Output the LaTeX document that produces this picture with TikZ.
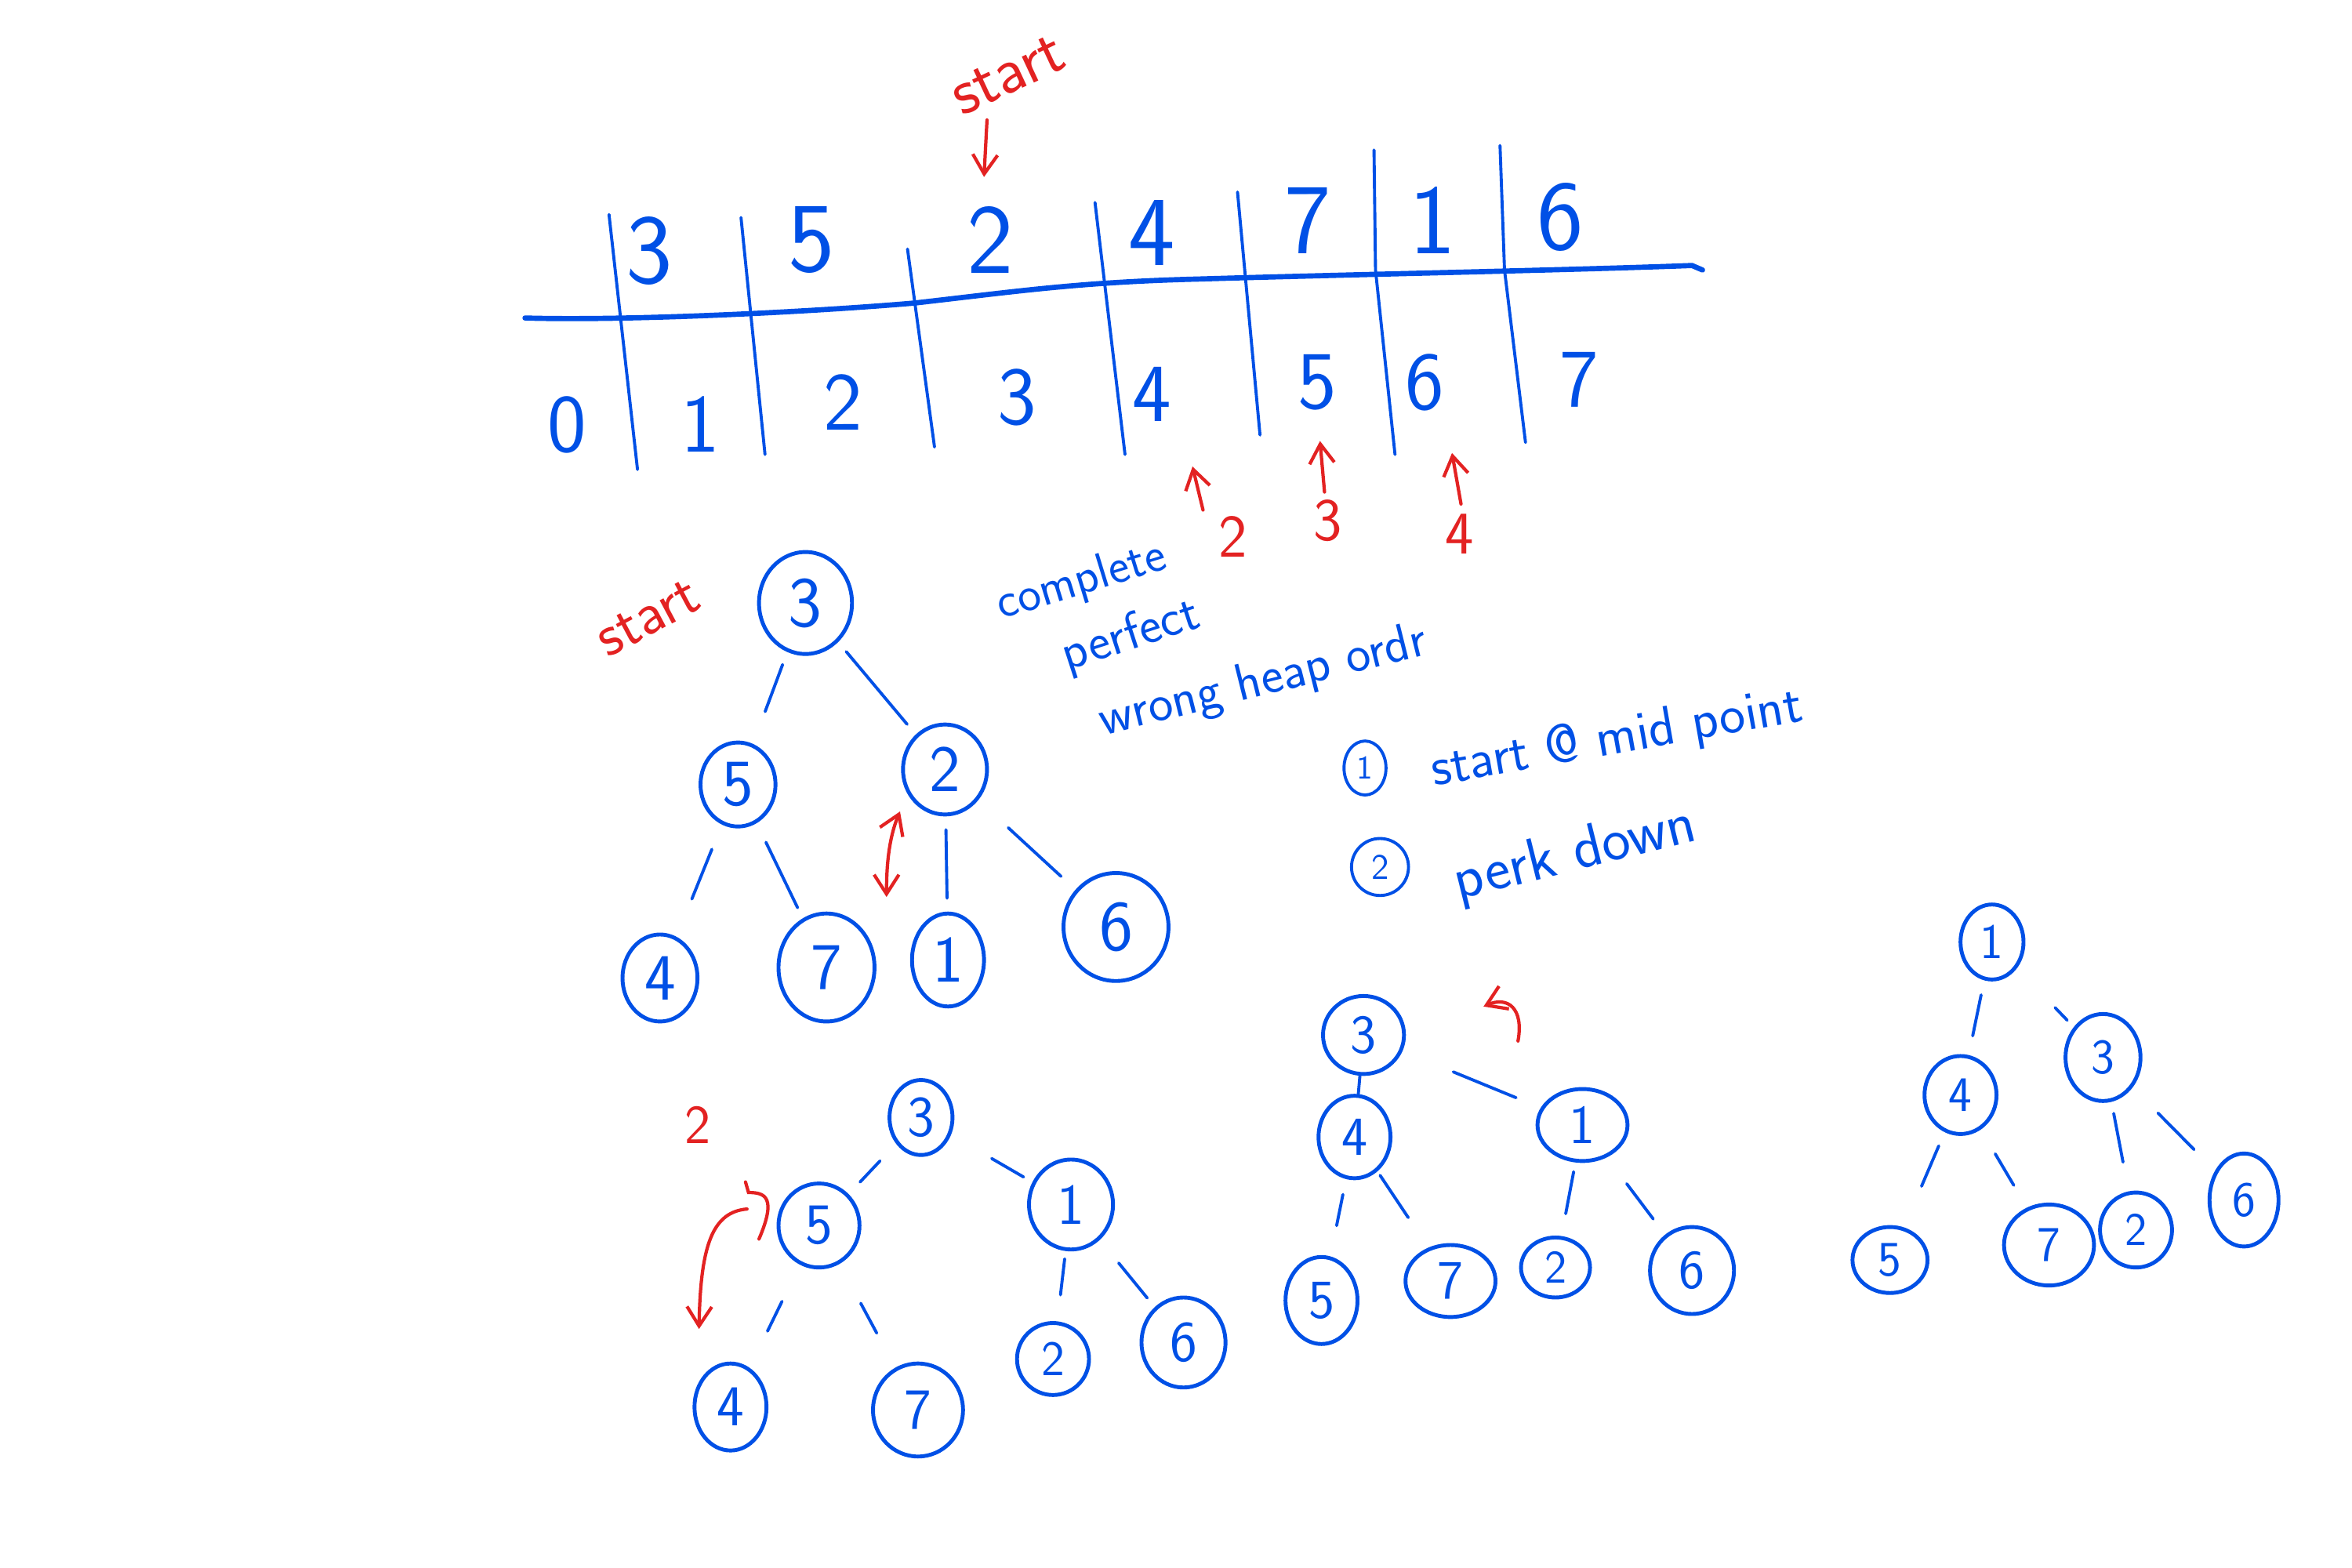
\documentclass[tikz,border=0pt]{standalone}
\usepackage{fontspec}
\usetikzlibrary{shapes.geometric,arrows.meta}
\definecolor{pen}{HTML}{0050E6}
\definecolor{ink}{HTML}{E32222}
\newcommand\myfs[1]{\sffamily\fontsize{#1}{#1}\selectfont}
\begin{document}
\begin{tikzpicture}[x=0.01913cm,y=-0.01913cm,
  nd/.style n args={3}{draw=pen,ellipse,inner sep=0pt,line width=1.4pt,minimum width=#1*0.01913cm,minimum height=#2*0.01913cm,text=pen,font=\myfs{#3}},
  ed/.style 2 args={draw=pen,line width=1.1pt,line cap=round,shorten <=#1cm,shorten >=#2cm},
  grid/.style={draw=pen,line width=1.1pt,line cap=round},
  val/.style={text=pen,font=\myfs{36},inner sep=0pt},
  idx/.style={text=pen,font=\myfs{30},inner sep=0pt},
  note/.style={text=pen,inner sep=0pt},
  rnote/.style={text=ink,inner sep=0pt},
  rarr/.style={draw=ink,line width=1.2pt,line cap=round,-{Straight Barb[length=7pt,width=9pt]}},
  rboth/.style={draw=ink,line width=1.2pt,line cap=round,{Straight Barb[length=7pt,width=9pt]}-{Straight Barb[length=7pt,width=9pt]}},
  rline/.style={draw=ink,line width=1.2pt,line cap=round},
]
\useasboundingbox (0,0) rectangle (1568,1045);

% ---------- array ----------
\draw[pen,line width=1.9pt,line cap=round] (350,212) .. controls (420,214) and (540,208) .. (610,202) .. controls (680,194) and (720,188) .. (800,186) .. controls (900,183) and (1050,180) .. (1128,177) -- (1135,180);
\draw[grid] (406,143) -- (425,313);
\draw[grid] (494,145) -- (510,303);
\draw[grid] (605,166) -- (623,298);
\draw[grid] (730,135) -- (750,303);
\draw[grid] (825,128) -- (840,290);
\draw[grid] (916,100) -- (917,180) -- (930,303);
\draw[grid] (1000,97) -- (1003,180) -- (1017,295);

\node[val] (v0) at (433,167) {3};
\node[val] (v1) at (541,160) {5};
\node[val] (v2) at (660,160) {2};
\node[val] (v3) at (768,155) {4};
\node[val] (v4) at (872,147) {7};
\node[val] (v5) at (955,147) {1};
\node[val] (v6) at (1040,145) {6};

\node[idx] (i0) at (378,283) {0};
\node[idx] (i1) at (467,283) {1};
\node[idx] (i2) at (562,268) {2};
\node[idx] (i3) at (678,265) {3};
\node[idx] (i4) at (768,263) {4};
\node[idx] (i5) at (878,255) {5};
\node[idx] (i6) at (950,255) {6};
\node[idx] (i7) at (1053,253) {7};

\node[rnote,font=\myfs{24},rotate=25] (st1) at (672,50) {start};
\coordinate (st1a) at (658,80);
\coordinate (st1b) at (656,118);
\draw[rarr] (st1a) -- (st1b);

\node[rnote,font=\myfs{22}] (p2) at (822,358) {2};
\node[rnote,font=\myfs{22}] (p3) at (885,347) {3};
\node[rnote,font=\myfs{22}] (p4) at (973,356) {4};
\coordinate (p2a) at (802,340); \coordinate (p2b) at (795,311);
\coordinate (p3a) at (883,328); \coordinate (p3b) at (880,294);
\coordinate (p4a) at (974,336); \coordinate (p4b) at (968,302);
\draw[rarr] (p2a) -- (p2b);
\draw[rarr] (p3a) -- (p3b);
\draw[rarr] (p4a) -- (p4b);

% ---------- notes ----------
\node[note,font=\myfs{18},rotate=17] (n1) at (721,388) {complete};
\node[note,font=\myfs{19},rotate=18] (n2) at (754,424) {perfect};
\node[note,font=\myfs{19},rotate=14] (n3) at (842,455) {wrong heap ordr};
\node[nd={28}{36}{12},line width=1.1pt] (c1) at (910,512) {1};
\node[note,font=\myfs{20},rotate=10] (n4) at (1078,493) {start @ mid point};
\node[nd={38}{38}{13},line width=1.1pt] (c2) at (920,578) {2};
\node[note,font=\myfs{22},rotate=14] (n5) at (1050,570) {perk down};

% ---------- tree 1 ----------
\node[rnote,font=\myfs{22},rotate=28] (st2) at (432,412) {start};
\node[nd={62}{68}{26}] (a3) at (537,402) {3};
\node[nd={50}{56}{24}] (a5) at (492,523) {5};
\node[nd={56}{60}{24}] (a2) at (630,513) {2};
\node[nd={50}{58}{24}] (a4) at (440,652) {4};
\node[nd={64}{72}{24}] (a7) at (551,645) {7};
\node[nd={48}{62}{24}] (a1) at (632,640) {1};
\node[nd={70}{72}{26}] (a6) at (744,618) {6};
\draw[ed={.17}{.44}] (a3) -- (a5);
\draw[ed={.16}{.17}] (a3) -- (a2);
\draw[ed={.34}{.52}] (a5) -- (a4);
\draw[ed={.27}{.15}] (a5) -- (a7);
\draw[ed={.17}{.17}] (a2) -- (a1);
\draw[ed={.52}{.25}] (a2) -- (a6);
\coordinate (sw1) at (600,541);
\coordinate (sw2) at (591,598);
\draw[rboth] (sw1) .. controls (592,560) and (591,580) .. (sw2);

% ---------- tree 2 ----------
\node[rnote,font=\myfs{20}] (lb2) at (465,750) {2};
\node[nd={42}{50}{21}] (b3) at (614,745) {3};
\node[nd={54}{56}{21}] (b5) at (546,817) {5};
\node[nd={56}{60}{21}] (b1) at (714,803) {1};
\node[nd={48}{58}{21}] (b4) at (487,938) {4};
\node[nd={60}{62}{21}] (b7) at (612,940) {7};
\node[nd={48}{48}{18}] (b2) at (702,906) {2};
\node[nd={56}{60}{21}] (b6) at (789,895) {6};
\draw[ed={.3}{.21}] (b3) -- (b5);
\draw[ed={.6}{.13}] (b3) -- (b1);
\draw[ed={.52}{.52}] (b5) -- (b4);
\draw[ed={.57}{.5}] (b5) -- (b7);
\draw[ed={.1}{.34}] (b1) -- (b2);
\draw[ed={.38}{.15}] (b1) -- (b6);
\coordinate (q1) at (497,788);
\coordinate (q2) at (506,826);
\draw[rline] (q1) -- (499,795) .. controls (510,795) and (518,798) .. (q2);
\coordinate (w1) at (498,806);
\coordinate (w2) at (466,886);
\draw[rarr] (w1) .. controls (475,808) and (467,830) .. (w2);

% ---------- tree 3 ----------
\node[nd={54}{52}{20}] (c3) at (909,690) {3};
\node[nd={48}{55}{20}] (c4) at (903,758) {4};
\node[nd={60}{48}{20}] (cc1) at (1055,750) {1};
\node[nd={48}{58}{20}] (c5) at (881,867) {5};
\node[nd={60}{48}{20}] (c7) at (967,854) {7};
\node[nd={46}{40}{17}] (cc2) at (1037,845) {2};
\node[nd={56}{58}{20}] (c6) at (1128,847) {6};
\draw[ed={0}{0}] (c3) -- (c4);
\draw[ed={.7}{.34}] (c3) -- (cc1);
\draw[ed={.2}{.4}] (c4) -- (c5);
\draw[ed={.06}{.46}] (c4) -- (c7);
\draw[ed={.12}{.29}] (cc1) -- (cc2);
\draw[ed={.42}{.25}] (cc1) -- (c6);
\coordinate (h1) at (1012,694);
\coordinate (h2) at (989,671);
\draw[rarr] (h1) .. controls (1016,672) and (1005,664) .. (h2);

% ---------- tree 4 ----------
\node[nd={42}{50}{18}] (d1) at (1328,628) {1};
\node[nd={48}{52}{18}] (d4) at (1307,730) {4};
\node[nd={50}{58}{18}] (d3) at (1402,705) {3};
\node[nd={50}{44}{18}] (d5) at (1260,840) {5};
\node[nd={60}{54}{18}] (d7) at (1366,830) {7};
\node[nd={48}{50}{17}] (d2) at (1424,820) {2};
\node[nd={46}{62}{18}] (d6) at (1496,800) {6};
\draw[ed={.19}{.25}] (d1) -- (d4);
\draw[ed={.7}{.12}] (d1) -- (d3);
\draw[ed={.19}{.57}] (d4) -- (d5);
\draw[ed={.36}{.33}] (d4) -- (d7);
\draw[ed={.15}{.38}] (d3) -- (d2);
\draw[ed={.46}{.38}] (d3) -- (d6);
\end{tikzpicture}
\end{document}
